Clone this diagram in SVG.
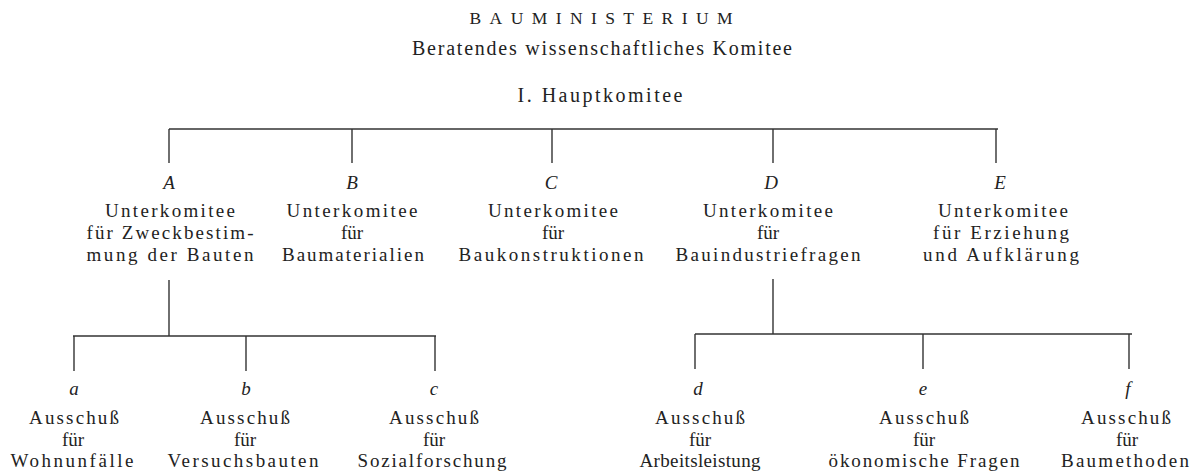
<svg xmlns="http://www.w3.org/2000/svg" width="1197" height="471" viewBox="0 0 1197 471">
<style>
text{font-family:"Liberation Serif","Times New Roman",serif;font-size:19px;fill:#222;text-anchor:middle}
.it{font-style:italic;font-size:19px}
.t{font-size:17.5px}
.h{font-size:20px}
line{stroke:#333;stroke-width:1.4}
</style>
<rect width="1197" height="471" fill="#fff"/>
<g id="root">
<text x="601" y="24" class="t" textLength="263" lengthAdjust="spacing">BAUMINISTERIUM</text>
<text x="602" y="55" class="h" textLength="380" lengthAdjust="spacing">Beratendes wissenschaftliches Komitee</text>
<text x="600" y="102" class="h" textLength="165" lengthAdjust="spacing">I. Hauptkomitee</text>
</g>
<g id="connectors">
<line x1="169" y1="129" x2="998" y2="129"/>
<line x1="169" y1="129" x2="169" y2="163"/>
<line x1="352" y1="129" x2="352" y2="163"/>
<line x1="552" y1="129" x2="552" y2="163"/>
<line x1="773" y1="129" x2="773" y2="163"/>
<line x1="996" y1="129" x2="996" y2="163"/>
<line x1="169" y1="280" x2="169" y2="336"/>
<line x1="73" y1="336" x2="436" y2="336"/>
<line x1="74" y1="336" x2="74" y2="371"/>
<line x1="246" y1="336" x2="246" y2="371"/>
<line x1="435" y1="336" x2="435" y2="371"/>
<line x1="773" y1="279" x2="773" y2="334"/>
<line x1="695" y1="334" x2="1132" y2="334"/>
<line x1="695" y1="334" x2="695" y2="369"/>
<line x1="923" y1="334" x2="923" y2="369"/>
<line x1="1129" y1="334" x2="1129" y2="369"/>
</g>
<g id="A">
<text x="169" y="189" class="it">A</text>
<text x="170" y="217" textLength="130" lengthAdjust="spacing">Unterkomitee</text>
<text x="170" y="239" textLength="167" lengthAdjust="spacing">für Zweckbestim-</text>
<text x="170" y="261" textLength="167" lengthAdjust="spacing">mung der Bauten</text>
</g>
<g id="B">
<text x="352" y="189" class="it">B</text>
<text x="352" y="217" textLength="131" lengthAdjust="spacing">Unterkomitee</text>
<text x="352" y="239">für</text>
<text x="353" y="261" textLength="142" lengthAdjust="spacing">Baumaterialien</text>
</g>
<g id="C">
<text x="551" y="189" class="it">C</text>
<text x="553" y="217" textLength="130" lengthAdjust="spacing">Unterkomitee</text>
<text x="553" y="239">für</text>
<text x="551" y="261" textLength="185" lengthAdjust="spacing">Baukonstruktionen</text>
</g>
<g id="D">
<text x="771" y="189" class="it">D</text>
<text x="768" y="217" textLength="130" lengthAdjust="spacing">Unterkomitee</text>
<text x="768" y="239">für</text>
<text x="768" y="261" textLength="185" lengthAdjust="spacing">Bauindustriefragen</text>
</g>
<g id="E">
<text x="1000" y="189" class="it">E</text>
<text x="1003" y="217" textLength="130" lengthAdjust="spacing">Unterkomitee</text>
<text x="1001" y="239" textLength="136" lengthAdjust="spacing">für Erziehung</text>
<text x="1001" y="261" textLength="156" lengthAdjust="spacing">und Aufklärung</text>
</g>
<g id="a">
<text x="74" y="395" class="it">a</text>
<text x="74" y="424" textLength="90" lengthAdjust="spacing">Ausschuß</text>
<text x="73" y="445.5">für</text>
<text x="72" y="467" textLength="123" lengthAdjust="spacing">Wohnunfälle</text>
</g>
<g id="b">
<text x="246" y="395" class="it">b</text>
<text x="245" y="424" textLength="90" lengthAdjust="spacing">Ausschuß</text>
<text x="245" y="445.5">für</text>
<text x="243" y="467" textLength="151" lengthAdjust="spacing">Versuchsbauten</text>
</g>
<g id="c">
<text x="434" y="395" class="it">c</text>
<text x="434" y="424" textLength="90" lengthAdjust="spacing">Ausschuß</text>
<text x="434" y="445.5">für</text>
<text x="432" y="467" textLength="149" lengthAdjust="spacing">Sozialforschung</text>
</g>
<g id="d">
<text x="698" y="395" class="it">d</text>
<text x="700" y="424" textLength="90" lengthAdjust="spacing">Ausschuß</text>
<text x="700" y="445.5">für</text>
<text x="700" y="467" textLength="121" lengthAdjust="spacing">Arbeitsleistung</text>
</g>
<g id="e">
<text x="923" y="395" class="it">e</text>
<text x="924" y="424" textLength="90" lengthAdjust="spacing">Ausschuß</text>
<text x="924" y="445.5">für</text>
<text x="924" y="467" textLength="191" lengthAdjust="spacing">ökonomische Fragen</text>
</g>
<g id="f">
<text x="1128" y="395" class="it">f</text>
<text x="1126" y="424" textLength="90" lengthAdjust="spacing">Ausschuß</text>
<text x="1127" y="445.5">für</text>
<text x="1125" y="467" textLength="128" lengthAdjust="spacing">Baumethoden</text>
</g>
</svg>
